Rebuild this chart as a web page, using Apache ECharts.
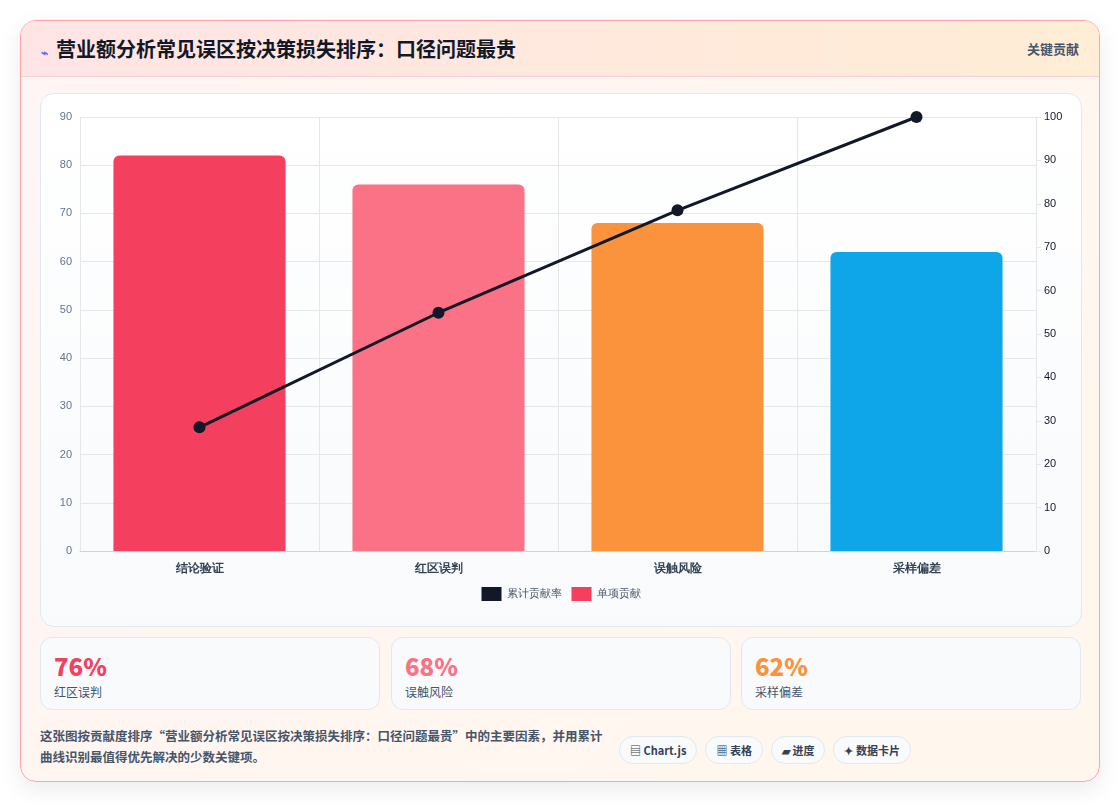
<!DOCTYPE html>
<html><head><meta charset="utf-8">
<script src="https://cdn.jsdelivr.net/npm/echarts@6/dist/echarts.min.js"></script>
<style>
html,body{margin:0;width:1120px;height:804px;background:#fff;font-family:"Noto Sans CJK SC","Noto Sans",sans-serif;overflow:hidden}
.card{position:absolute;left:20px;top:20px;width:1078px;height:760px;border:1px solid #fda4af;border-radius:16px;background:linear-gradient(135deg,#fff5f5,#fff7ed);box-shadow:0 8px 24px rgba(0,0,0,.08);overflow:hidden}
.hdr{position:absolute;left:0;top:0;right:0;height:55px;background:linear-gradient(90deg,#ffe4e6,#ffedd5);border-bottom:1px solid #fecdd3}
.hdr .t{position:absolute;left:20px;top:13px;font-size:20px;font-weight:700;color:#111827}
.hdr .t span{color:#6366f1;font-size:12px;margin-right:8px;vertical-align:middle}
.hdr .r{position:absolute;right:20px;top:18px;font-size:13px;color:#475569;font-weight:600}
.panel{position:absolute;left:19px;top:72px;width:1040px;height:532px;border:1px solid #e2e8f0;border-radius:14px;background:linear-gradient(180deg,#fff,#f8fafc)}
#c{position:absolute;left:0;top:0;width:1040px;height:532px}
.kpi{position:absolute;top:616px;width:338px;height:71px;border:1px solid #e2e8f0;border-radius:12px;background:#f8fafc}
.kpi .v{position:absolute;left:13px;top:10px;font-size:24px;font-weight:800}
.kpi .l{position:absolute;left:13px;top:45px;font-size:12px;color:#475569}
.foot{position:absolute;left:19px;top:704px;width:565px;font-size:12.5px;line-height:21px;color:#475569;font-weight:600}
.tags{position:absolute;left:598px;top:715px;display:flex;gap:8px}
.tags div{border:1px solid #e2e8f0;background:#f8fafc;border-radius:16px;padding:5px 10px;font-size:11px;font-weight:700;color:#334155}
</style></head><body>
<div class="card">
 <div class="hdr"><div class="t"><span>⌁</span>营业额分析常见误区按决策损失排序：口径问题最贵</div><div class="r">关键贡献</div></div>
 <div class="panel"><div id="c"></div></div>
 <div class="kpi" style="left:19px"><div class="v" style="color:#f43f5e">76%</div><div class="l">红区误判</div></div>
 <div class="kpi" style="left:370px"><div class="v" style="color:#fb7185">68%</div><div class="l">误触风险</div></div>
 <div class="kpi" style="left:720px"><div class="v" style="color:#fb923c">62%</div><div class="l">采样偏差</div></div>
 <div class="foot">这张图按贡献度排序“营业额分析常见误区按决策损失排序：口径问题最贵”中的主要因素，并用累计曲线识别最值得优先解决的少数关键项。</div>
 <div class="tags"><div>▤ Chart.js</div><div>▦ 表格</div><div>▰ 进度</div><div>✦ 数据卡片</div></div>
</div>
<script>
const categories=["结论验证","红区误判","误触风险","采样偏差"];
const values=[82,76,68,62];
const cumulative=[28.5,54.9,78.5,100];
const barColors=["#f43f5e","#fb7185","#fb923c","#0ea5e9"];
const ch=echarts.init(document.getElementById('c'));
const ax={fontSize:11,color:'#64748b'};
ch.setOption({
 animation:false,
 grid:{left:39,right:45,top:23,bottom:75},
 legend:{bottom:20,itemWidth:20,itemHeight:14,itemGap:10,textStyle:{fontSize:11,color:'#475569'},
  data:[{name:'累计贡献率',icon:'rect',itemStyle:{color:'#111827'}},{name:'单项贡献',icon:'rect',itemStyle:{color:'#f43f5e'}}]},
 xAxis:{type:'category',data:categories,axisTick:{show:false},axisLine:{lineStyle:{color:'#cbd5e1'}},
  axisLabel:{fontSize:12,color:'#334155',fontWeight:600,margin:12},splitLine:{show:true,lineStyle:{color:'#e5e7eb'}}},
 yAxis:[{type:'value',min:0,max:90,interval:10,axisLabel:ax,splitLine:{lineStyle:{color:'#e5e7eb'}},axisLine:{show:false}},
  {type:'value',min:0,max:100,interval:10,axisLabel:{fontSize:11,color:'#111827'},splitLine:{show:false},axisLine:{show:true,lineStyle:{color:'#e5e7eb'}},axisTick:{show:true,lineStyle:{color:'#e5e7eb'}}}],
 series:[
  {name:'单项贡献',type:'bar',barWidth:'72%',data:values.map((v,i)=>({value:v,itemStyle:{color:barColors[i],borderRadius:[6,6,0,0]}}))},
  {name:'累计贡献率',type:'line',yAxisIndex:1,data:cumulative,symbol:'circle',symbolSize:12,lineStyle:{color:'#111827',width:3},itemStyle:{color:'#111827'}}
 ]
});
</script>
</body></html>
